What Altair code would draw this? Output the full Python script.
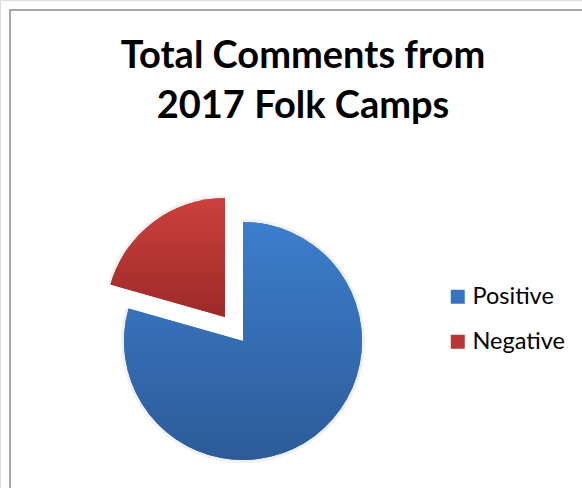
import math
import altair as alt
import pandas as pd

# data
categories = ["Positive", "Negative"]
shares = [79.4, 20.6]
explode = [0, 1]
title_lines = ["Total Comments from", "2017 Folk Camps"]

colors_solid = ["#3674c2", "#b83634"]
grad_stops = {
    "Positive": ("#3c7ecd", "#2d5b98"),
    "Negative": ("#cc413d", "#9c2a29"),
}

df = pd.DataFrame({"category": categories, "value": shares,
                   "order": list(range(len(categories))), "explode": explode})

CX, CY, R, OFF = 243, 341, 119, 30
TWO_PI = 2 * math.pi

base = (
    alt.Chart(df)
    .transform_joinaggregate(total="sum(value)")
    .transform_calculate(frac="datum.value / datum.total")
    .transform_window(end="sum(frac)", sort=[alt.SortField("order")])
    .transform_calculate(start="datum.end - datum.frac")
    .transform_calculate(mid=f"(datum.start + datum.end) / 2 * {TWO_PI}")
    .transform_calculate(
        cx=f"{CX} + datum.explode * {OFF} * sin(datum.mid)",
        cy=f"{CY} - datum.explode * {OFF} * cos(datum.mid)",
    )
)

theta_scale = alt.Scale(domain=[0, 1], range=[0, TWO_PI])

enc = dict(
    x=alt.X("cx:Q", scale=None, axis=None),
    y=alt.Y("cy:Q", scale=None, axis=None),
    theta=alt.Theta("start:Q", scale=theta_scale),
    theta2="end:Q",
)

# shadow
shadow = base.mark_arc(radius=R + 3, fill="#000000", opacity=0.06).encode(**enc)

solid = base.mark_arc(radius=R).encode(
    color=alt.Color(
        "category:N",
        scale=alt.Scale(domain=categories, range=colors_solid),
        sort=categories,
        legend=alt.Legend(
            title=None, orient="none", legendX=446, legendY=285,
            symbolType="square", symbolSize=196, symbolStrokeWidth=0,
            labelFont="Lato", labelFontSize=23.5, labelColor="#000000",
            labelOffset=3, rowPadding=20, labelLimit=200,
        ),
    ),
    **enc,
)

grad_layers = []
for cat in categories:
    top, bot = grad_stops[cat]
    g = alt.Gradient(
        gradient="linear", x1=0, y1=0, x2=0, y2=1,
        stops=[alt.GradientStop(color=top, offset=0),
               alt.GradientStop(color=bot, offset=1)],
    )
    grad_layers.append(
        base.transform_filter(alt.datum.category == cat)
        .mark_arc(radius=R, fill=g)
        .encode(**enc)
    )

border = alt.Chart(pd.DataFrame({"a": [0]})).mark_rect(
    fill=None, stroke="#8c8c8c", strokeWidth=1.5
).encode(x=alt.value(10), x2=alt.value(700), y=alt.value(10), y2=alt.value(700))

title = alt.Chart(pd.DataFrame({"a": [0]})).mark_text(
    text=title_lines, font="Lato", fontSize=38, fontWeight="bold",
    align="center", baseline="alphabetic", lineHeight=50, color="#000000",
).encode(x=alt.value(303), y=alt.value(68))

chart = alt.layer(border, title, shadow, solid, *grad_layers).properties(
    width=582, height=488,
    autosize=alt.AutoSizeParams(type="none"),
    padding=0,
).configure_view(stroke=None).configure(background="#ffffff")

chart.save("out.html", embed_options={"renderer": "svg", "actions": False})
